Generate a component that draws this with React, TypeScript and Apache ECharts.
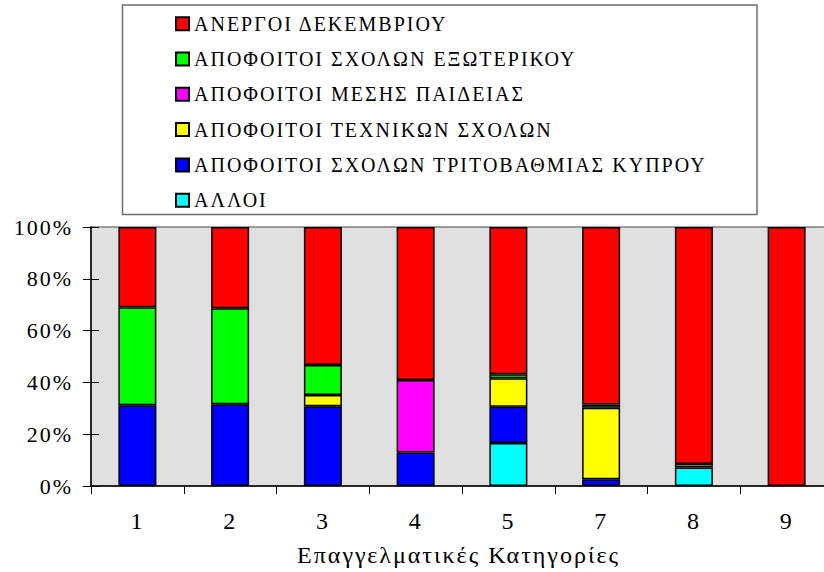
import React, { useEffect, useRef } from "react";
import * as echarts from "echarts";

const categories = ["1", "2", "3", "4", "5", "7", "8", "9"];
const seriesNames = [
  "ΑΛΛΟΙ",
  "ΑΠΟΦΟΙΤΟΙ ΣΧΟΛΩΝ ΤΡΙΤΟΒΑΘΜΙΑΣ ΚΥΠΡΟΥ",
  "ΑΠΟΦΟΙΤΟΙ ΤΕΧΝΙΚΩΝ ΣΧΟΛΩΝ",
  "ΑΠΟΦΟΙΤΟΙ ΜΕΣΗΣ ΠΑΙΔΕΙΑΣ",
  "ΑΠΟΦΟΙΤΟΙ ΣΧΟΛΩΝ ΕΞΩΤΕΡΙΚΟΥ",
  "ΑΝΕΡΓΟΙ ΔΕΚΕΜΒΡΙΟΥ",
];
const alloi = [0, 0, 0, 0, 16.6, 0, 7.1, 0];
const tritovathmias = [31.2, 31.6, 30.8, 12.9, 14.0, 2.6, 0, 0];
const technikon = [0, 0, 4.3, 0, 11.0, 27.6, 1.4, 0];
const mesis = [0, 0, 0, 28.0, 0, 0, 0, 0];
const exoterikou = [37.8, 37.0, 11.6, 0, 1.5, 1.3, 0, 0];
const anergoi = [31.0, 31.4, 53.3, 59.1, 56.9, 68.5, 91.5, 100];
const seriesValues = [alloi, tritovathmias, technikon, mesis, exoterikou, anergoi];
const seriesColors = ["#00ffff", "#0000ff", "#ffff00", "#ff00ff", "#00ff00", "#ff0000"];
const legendOrder = [
  "ΑΝΕΡΓΟΙ ΔΕΚΕΜΒΡΙΟΥ",
  "ΑΠΟΦΟΙΤΟΙ ΣΧΟΛΩΝ ΕΞΩΤΕΡΙΚΟΥ",
  "ΑΠΟΦΟΙΤΟΙ ΜΕΣΗΣ ΠΑΙΔΕΙΑΣ",
  "ΑΠΟΦΟΙΤΟΙ ΤΕΧΝΙΚΩΝ ΣΧΟΛΩΝ",
  "ΑΠΟΦΟΙΤΟΙ ΣΧΟΛΩΝ ΤΡΙΤΟΒΑΘΜΙΑΣ ΚΥΠΡΟΥ",
  "ΑΛΛΟΙ",
];
const xTitle = "Επαγγελματικές Κατηγορίες";

const FONT = "Liberation Serif";

export default function App() {
  const ref = useRef<HTMLDivElement>(null);
  useEffect(() => {
    if (!ref.current) return;
    const chart = echarts.init(ref.current, undefined, { renderer: "svg" });
    chart.setOption({
      animation: false,
      backgroundColor: "#ffffff",
      textStyle: { fontFamily: FONT },
      grid: {
        left: 91,
        width: 742,
        top: 227,
        height: 259,
        outerBoundsMode: "none",
        containLabel: false,
        show: true,
        backgroundColor: "#e0e0e0",
        borderColor: "#808080",
        borderWidth: 1.5,
      },
      graphic: [
        {
          type: "rect",
          z: 1,
          shape: { x: 122.5, y: 5, width: 634.5, height: 209.5 },
          style: { fill: "#ffffff", stroke: "#6e6e6e", lineWidth: 1.5 },
        },
        {
          type: "text",
          z: 5,
          x: 458.5,
          y: 555,
          style: {
            text: xTitle,
            fontFamily: FONT,
            fontSize: 24,
            fill: "#000",
            textAlign: "center",
            textVerticalAlign: "middle",
          },
        },
      ],
      legend: {
        orient: "vertical",
        left: 170,
        top: 8.7,
        itemWidth: 13,
        itemHeight: 13,
        itemGap: 15.3,
        icon: "rect",
        data: legendOrder,
        selectedMode: false,
        itemStyle: { borderColor: "#000", borderWidth: 2 },
        textStyle: { fontFamily: FONT, fontSize: 20, color: "#000", lineHeight: 20 },
      },
      xAxis: {
        type: "category",
        data: categories,
        axisLine: { lineStyle: { color: "#000", width: 1.5 } },
        axisTick: { show: true, length: 8, lineStyle: { color: "#000" } },
        axisLabel: { fontFamily: FONT, fontSize: 24, color: "#000", margin: 23 },
      },
      yAxis: [
        {
          type: "value",
          min: 0,
          max: 100,
          interval: 20,
          axisLine: { show: true, lineStyle: { color: "#000", width: 1.5 } },
          axisTick: { show: true, length: 8, lineStyle: { color: "#000" } },
          splitLine: { show: false },
          axisLabel: {
            fontFamily: FONT,
            fontSize: 22,
            color: "#000",
            margin: 18,
            formatter: "{value}%",
          },
        },
        {
          type: "value",
          position: "left",
          min: 0,
          max: 100,
          interval: 20,
          axisLine: { show: false },
          axisTick: { show: true, inside: true, length: 8, lineStyle: { color: "#000" } },
          splitLine: { show: false },
          axisLabel: { show: false },
        },
      ],
      series: seriesNames.map((name, i) => ({
        name,
        type: "bar",
        stack: "total",
        barWidth: 38,
        yAxisIndex: 0,
        data: seriesValues[i].map((v) => (v === 0 ? "-" : v)),
        itemStyle: { color: seriesColors[i], borderColor: "#000", borderWidth: 1.5 },
      })),
    });
    return () => chart.dispose();
  }, []);
  return (
    <>
      <style>{`
        .chartbox svg text { font-family: 'Liberation Serif', 'Times New Roman', serif !important; letter-spacing: 2px; }
      `}</style>
      <div
        ref={ref}
        className="chartbox"
        style={{ position: "fixed", left: 0, top: 0, width: 824, height: 572 }}
      />
    </>
  );
}
